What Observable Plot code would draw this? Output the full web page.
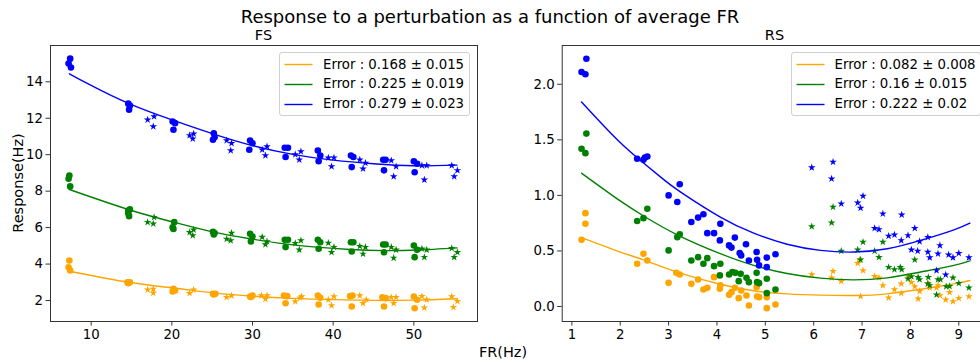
<!DOCTYPE html>
<html>
<head>
<meta charset="utf-8">
<script src="https://cdn.jsdelivr.net/npm/d3@7"></script>
<script src="https://cdn.jsdelivr.net/npm/@observablehq/plot@0.6"></script>
<style>
  html, body { margin: 0; padding: 0; background: #fff; overflow: hidden; }
  #fig { position: relative; width: 980px; height: 363px; overflow: hidden; font-family: "DejaVu Sans", sans-serif; color: #000; }
  .abs { position: absolute; white-space: nowrap; line-height: 1; }
  .legend { position: absolute; background: rgba(255,255,255,0.85); border: 1px solid #d0d0d0; border-radius: 3px; box-sizing: border-box; }
  .legend .row { position: absolute; left: 0; height: 20px; display: flex; align-items: center; font-size: 13.3px; }
</style>
</head>
<body>
<div id="fig"></div>
<script>
// ---------------- FS panel (left) ----------------
const fsXTicks = [10, 20, 30, 40, 50];
const fsYTicks = [2, 4, 6, 8, 10, 12, 14];

const fsBlueDots = [[7.4,15.27],[7.2,15.0],[7.5,14.78],[14.6,12.8],[14.8,12.7],[14.7,12.47],[20.1,11.82],[20.4,11.73],[20.2,11.37],
  [25.2,11.18],[25.3,10.96],[25.1,10.82],[29.7,10.78],[30.0,10.63],[29.6,10.27],[34.0,10.38],[34.4,10.38],[34.1,9.87],
  [38.1,10.23],[38.4,9.96],[38.2,9.64],[42.2,9.96],[42.5,9.87],[42.3,9.32],[46.2,9.72],[46.5,9.72],[46.3,9.14],
  [50.0,9.64],[50.4,9.50],[50.1,9.04]];
const fsBlueStars = [[17.0,11.92],[17.8,12.1],[17.7,11.55],[22.2,11.06],[22.7,11.15],[22.6,10.88],[26.8,10.78],[27.4,10.63],[27.3,10.23],
  [31.2,10.27],[31.8,10.45],[31.6,9.96],[35.3,10.01],[36.0,10.18],[35.8,9.72],[39.4,9.83],[40.1,9.83],[39.8,9.35],
  [43.3,9.72],[44.0,9.54],[43.7,9.23],[47.2,9.68],[47.8,9.35],[47.5,8.80],[51.0,9.41],[51.6,9.41],[51.3,8.62],
  [54.7,9.41],[55.4,9.14],[55.0,8.80]];
const fsBlueFit = [[7.3,14.44],[10,13.8],[14.7,12.8],[20.2,11.88],[25.2,11.13],[30,10.5],[35,10.02],[40,9.7],[45,9.5],[50,9.39],[55.35,9.43]];

const fsGreenDots = [[7.3,8.86],[7.2,8.68],[7.4,8.26],[14.6,6.94],[14.8,7.0],[14.6,6.79],[14.7,6.63],[20.3,6.30],[20.1,6.02],[20.2,5.93],
  [25.1,5.77],[25.3,5.70],[25.2,5.62],[29.7,5.66],[30.0,5.51],[29.8,5.24],[34.0,5.33],[34.4,5.33],[34.1,4.93],
  [38.1,5.33],[38.4,5.20],[38.2,4.84],[42.2,5.20],[42.5,5.20],[42.3,4.69],[46.2,5.07],[46.5,5.07],[46.3,4.65],
  [50.0,5.02],[50.4,4.78],[50.1,4.38]];
const fsGreenStars = [[17.0,6.30],[17.7,6.21],[17.8,6.57],[22.2,5.75],[22.7,5.88],[22.6,5.57],[26.8,5.38],[27.4,5.70],[27.3,5.29],
  [31.2,5.48],[31.8,5.24],[31.6,5.07],[35.3,5.14],[36.0,5.29],[35.8,4.78],[39.4,5.16],[40.1,4.93],[39.8,4.65],
  [43.3,4.98],[44.0,4.93],[43.7,4.56],[47.2,4.93],[47.8,4.78],[47.5,4.34],[51.0,4.84],[51.6,4.78],[51.3,4.38],
  [54.7,4.87],[55.4,4.65],[55.0,4.38]];
const fsGreenFit = [[7.3,8.09],[14.7,6.98],[20.2,6.30],[25.2,5.75],[29.7,5.39],[34.0,5.11],[37.9,4.93],[42.1,4.80],[46.3,4.74],[50.4,4.77],[55.35,4.89]];

const fsOrangeDots = [[7.3,4.20],[7.2,3.83],[7.4,3.65],[14.5,3.0],[14.8,3.0],[14.6,2.95],[20.2,2.64],[20.4,2.55],[20.1,2.5],
  [25.1,2.37],[25.4,2.37],[25.2,2.33],[29.7,2.22],[30.0,2.27],[29.8,2.2],[33.9,2.27],[34.3,2.24],[34.1,1.85],
  [38.1,2.27],[38.4,2.15],[38.2,1.78],[42.1,2.24],[42.4,2.27],[42.3,1.67],[46.1,2.18],[46.5,2.13],[46.3,1.67],
  [50.0,2.22],[50.4,2.04],[50.1,1.58]];
const fsOrangeStars = [[17.0,2.59],[17.7,2.64],[17.7,2.42],[22.2,2.40],[22.7,2.59],[26.8,2.18],[27.4,2.27],
  [31.1,2.27],[31.8,2.27],[31.6,2.09],[35.3,1.95],[36.1,2.22],[35.9,2.15],[39.4,2.04],[40.1,2.22],[39.8,1.73],
  [43.3,2.27],[44.1,2.05],[43.7,1.85],[47.2,2.18],[47.8,2.18],[47.5,1.85],[51.0,2.24],[51.6,2.05],[51.3,1.60],
  [54.7,2.22],[55.4,1.96],[54.9,1.63]];
const fsOrangeFit = [[7.3,3.61],[14.7,3.0],[20.2,2.69],[25.2,2.42],[30,2.24],[35,2.12],[40,2.05],[45,2.01],[50,2.02],[55.35,2.10]];

const fsLegend = ["Error : 0.168 \u00b1 0.015", "Error : 0.225 \u00b1 0.019", "Error : 0.279 \u00b1 0.023"];

// ---------------- RS panel (right) ----------------
const rsXTicks = [1, 2, 3, 4, 5, 6, 7, 8, 9];
const rsYTicks = [0, 0.5, 1.0, 1.5, 2.0];

const rsBlueDots = [[1.30,2.23],[1.20,2.11],[1.28,2.09],[2.35,1.33],[2.48,1.32],[2.51,1.34],[2.56,1.35],[3.0,1.0],[3.23,1.10],[3.18,0.94],
  [3.47,0.76],[3.61,0.80],[3.72,0.83],[3.80,0.66],[3.94,0.66],[4.07,0.745],[4.06,0.595],[4.25,0.55],[4.30,0.53],[4.37,0.62],
  [4.47,0.48],[4.50,0.46],[4.60,0.56],[4.66,0.414],[4.82,0.49],[4.83,0.42],[4.87,0.37],[5.03,0.44],[5.03,0.354],[5.21,0.47]];
const rsBlueStars = [[5.96,1.25],[6.40,1.30],[6.37,1.15],[6.57,0.925],[6.91,0.934],[6.97,0.886],[7.02,0.994],[7.26,0.705],[7.35,0.694],[7.43,0.835],
  [7.55,0.634],[7.67,0.646],[7.81,0.595],[7.82,0.826],[7.95,0.64],[8.02,0.51],[8.09,0.705],[8.15,0.50],[8.19,0.586],
  [8.36,0.624],[8.36,0.49],[8.40,0.44],[8.54,0.324],[8.57,0.475],[8.61,0.55],[8.73,0.285],[8.79,0.466],[8.88,0.44],[9.0,0.48],[9.21,0.44]];
const rsBlueFit = [[1.2,1.84],[1.94,1.50],[2.5,1.284],[2.9,1.142],[3.25,1.03],[4.07,0.805],[4.76,0.66],[5.45,0.56],[6.14,0.505],[6.83,0.49],[7.52,0.52],[8.21,0.595],[8.90,0.69],[9.23,0.75]];

const rsGreenDots = [[1.30,1.556],[1.20,1.42],[1.28,1.38],[2.35,0.77],[2.48,0.795],[2.56,0.88],[3.0,0.505],[3.18,0.624],[3.23,0.65],
  [3.47,0.414],[3.61,0.444],[3.72,0.385],[3.80,0.435],[3.94,0.363],[4.07,0.385],[4.06,0.28],[4.25,0.288],[4.32,0.31],[4.38,0.303],
  [4.45,0.228],[4.49,0.294],[4.61,0.258],[4.66,0.219],[4.82,0.303],[4.83,0.219],[4.87,0.21],[5.03,0.25],[5.03,0.12],[5.21,0.153]];
const rsGreenStars = [[5.96,0.72],[6.40,0.895],[6.37,0.754],[6.57,0.50],[6.91,0.51],[6.97,0.42],[7.02,0.58],[7.26,0.50],[7.35,0.444],[7.43,0.58],
  [7.55,0.354],[7.67,0.333],[7.79,0.354],[7.82,0.333],[7.95,0.25],[8.02,0.27],[8.09,0.42],[8.16,0.264],[8.19,0.243],
  [8.37,0.264],[8.36,0.204],[8.40,0.19],[8.54,0.105],[8.57,0.243],[8.62,0.243],[8.74,0.18],[8.81,0.183],[8.88,0.258],[9.0,0.21],[9.21,0.168]];
const rsGreenFit = [[1.2,1.20],[2.0,0.95],[2.5,0.81],[3.18,0.645],[4.07,0.475],[4.76,0.37],[5.45,0.297],[6.14,0.255],[6.83,0.24],[7.52,0.258],[8.21,0.31],[8.90,0.37],[9.23,0.41]];

const rsOrangeDots = [[1.20,0.60],[1.28,0.84],[1.28,0.745],[2.35,0.385],[2.48,0.475],[2.56,0.414],[3.0,0.213],[3.16,0.303],[3.23,0.288],
  [3.47,0.204],[3.61,0.243],[3.72,0.153],[3.80,0.168],[3.94,0.264],[4.07,0.19],[4.06,0.16],[4.25,0.105],[4.30,0.129],[4.37,0.168],
  [4.45,0.075],[4.50,0.144],[4.61,0.099],[4.66,0.009],[4.82,0.174],[4.83,0.09],[4.87,0.084],[5.03,0.084],[5.03,-0.015],[5.21,0.018]];
const rsOrangeStars = [[5.96,0.288],[6.40,0.318],[6.37,0.258],[6.57,0.228],[6.91,0.39],[6.95,0.42],[7.02,0.324],[6.97,0.093],
  [7.26,0.273],[7.35,0.258],[7.43,0.19],[7.55,0.078],[7.67,0.153],[7.81,0.204],[7.81,0.12],[7.95,0.27],[8.02,0.219],[8.09,0.18],
  [8.16,0.069],[8.19,0.138],[8.36,0.21],[8.40,0.168],[8.54,0.168],[8.57,0.19],[8.61,0.099],[8.73,0.06],[8.81,0.129],[8.88,0.045],[9.0,0.075],[9.21,0.09]];
const rsOrangeFit = [[1.2,0.62],[2.0,0.49],[2.48,0.42],[3.18,0.31],[4.07,0.20],[4.76,0.142],[5.45,0.114],[6.14,0.102],[6.83,0.099],[7.52,0.114],[8.21,0.155],[8.90,0.204],[9.23,0.234]];

const rsLegend = ["Error : 0.082 \u00b1 0.008", "Error : 0.16 \u00b1 0.015", "Error : 0.222 \u00b1 0.02"];

const seriesColors = ["orange", "green", "blue"];
const titleText = "Response to a perturbation as a function of average FR";
const panelTitles = ["FS", "RS"];
const xLabel = "FR(Hz)";
const yLabel = "Response(Hz)";

// ---------------- drawing ----------------
const fig = document.getElementById("fig");
const X = d => d[0], Y = d => d[1];

function seriesMarks(dots, stars, fit, color) {
  return [
    Plot.line(fit, {x: X, y: Y, stroke: color, strokeWidth: 1.4, curve: "natural"}),
    Plot.dot(dots, {x: X, y: Y, r: 3.3, fill: color, stroke: "none"}),
    Plot.dot(stars, {x: X, y: Y, r: 2.4, symbol: "star", fill: color, stroke: "none"})
  ];
}

function panel(opts) {
  const p = Plot.plot({
    width: opts.width, height: 363,
    marginLeft: opts.ml, marginRight: opts.mr, marginTop: 45, marginBottom: 42,
    style: {fontFamily: "DejaVu Sans, sans-serif", fontSize: "13.3px", color: "#000", background: "transparent", overflow: "visible"},
    x: {domain: opts.xd}, y: {domain: opts.yd},
    marks: [
      ...opts.series.flatMap(s => seriesMarks(...s)),
      Plot.frame({stroke: "#333", strokeWidth: 1}),
      Plot.axisX({ticks: opts.xt, tickSize: 4.5, tickPadding: 4, label: null, stroke: "#333"}),
      Plot.axisY({ticks: opts.yt, tickSize: 4.5, tickPadding: 3, label: null, tickFormat: opts.yf, stroke: "#333"})
    ]
  });
  p.style.position = "absolute";
  p.style.left = opts.left + "px";
  p.style.top = "0px";
  fig.appendChild(p);
}

panel({
  left: 0, width: 490, ml: 50, mr: 13,
  xd: [4.96, 57.89], yd: [0.85, 15.99], xt: fsXTicks, yt: fsYTicks, yf: d3.format("d"),
  series: [
    [fsOrangeDots, fsOrangeStars, fsOrangeFit, seriesColors[0]],
    [fsGreenDots, fsGreenStars, fsGreenFit, seriesColors[1]],
    [fsBlueDots, fsBlueStars, fsBlueFit, seriesColors[2]]
  ]
});
panel({
  left: 490, width: 500, ml: 71.7, mr: 2.7,
  xd: [0.8, 9.6], yd: [-0.135, 2.349], xt: rsXTicks, yt: rsYTicks, yf: d3.format(".1f"),
  series: [
    [rsOrangeDots, rsOrangeStars, rsOrangeFit, seriesColors[0]],
    [rsGreenDots, rsGreenStars, rsGreenFit, seriesColors[1]],
    [rsBlueDots, rsBlueStars, rsBlueFit, seriesColors[2]]
  ]
});

function addText(txt, css) {
  const d = document.createElement("div");
  d.className = "abs";
  d.textContent = txt;
  Object.assign(d.style, css);
  fig.appendChild(d);
  return d;
}
// title & labels
addText(titleText, {left: "0px", width: "980px", textAlign: "center", top: "8px", fontSize: "18px"});
addText(panelTitles[0], {left: "50px", width: "427px", textAlign: "center", top: "28px", fontSize: "14.5px"});
addText(panelTitles[1], {left: "561.7px", width: "425.6px", textAlign: "center", top: "28px", fontSize: "14.5px"});
addText(xLabel, {left: "403px", width: "200px", textAlign: "center", top: "345px", fontSize: "14.5px"});
const yl = addText(yLabel, {left: "18px", top: "183px", fontSize: "14.5px", transform: "translate(-50%,-50%) rotate(-90deg)"});

function legend(labels, left, top, width) {
  const box = document.createElement("div");
  box.className = "legend";
  Object.assign(box.style, {left: left + "px", top: top + "px", width: width + "px", height: "64px"});
  labels.forEach((lab, i) => {
    const row = document.createElement("div");
    row.className = "row";
    row.style.top = (1 + i * 19.8) + "px";
    row.innerHTML = `<svg width="43" height="20" style="flex:none"><line x1="4.5" x2="32.5" y1="10.5" y2="10.5" stroke="${seriesColors[i]}" stroke-width="1.4"/></svg><span></span>`;
    row.querySelector("span").textContent = lab;
    box.appendChild(row);
  });
  fig.appendChild(box);
}
legend(fsLegend, 279, 52, 191);
legend(rsLegend, 790.5, 52, 190);
</script>
</body>
</html>
